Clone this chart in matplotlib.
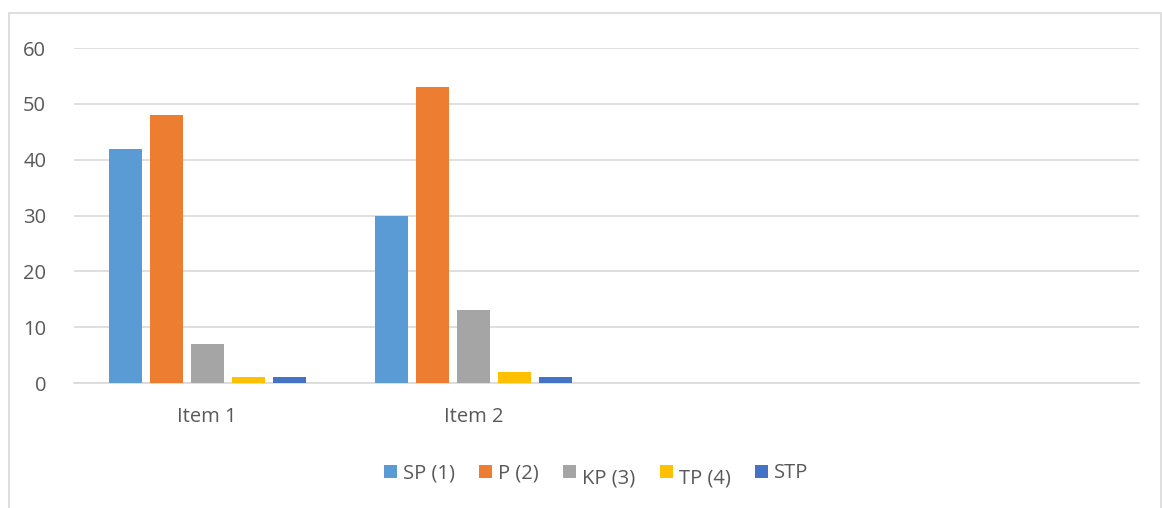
import numpy as np
import matplotlib
matplotlib.use("Agg")
import matplotlib.pyplot as plt
from matplotlib.patches import Rectangle
from matplotlib.transforms import Affine2D

plt.rcParams["font.family"] = ["Open Sans", "DejaVu Sans"]

categories = ["Item 1", "Item 2", "", ""]
series_names = ["SP (1)", "P (2)", "KP (3)", "TP (4)", "STP"]
values = {
    "SP (1)": [42, 30, 0, 0],
    "P (2)": [48, 53, 0, 0],
    "KP (3)": [7, 13, 0, 0],
    "TP (4)": [1, 2, 0, 0],
    "STP": [1, 1, 0, 0],
}
colors = ["#5B9BD5", "#ED7D31", "#A5A5A5", "#FFC000", "#4472C4"]
yticks = [0, 10, 20, 30, 40, 50, 60]

TEXT = "#595959"
GRID = "#D9D9D9"
FS = 14.5

fig = plt.figure(figsize=(11.62, 5.08), dpi=100)
ax = fig.add_axes([0.0637, 0.246, 0.9165, 0.6595])

# chart border
fig.patches.append(Rectangle((9 / 1162, -0.01), 1152 / 1162, 1 - 13 / 508 + 0.01,
                             transform=fig.transFigure, fill=False,
                             edgecolor=GRID, linewidth=1.2))

x = np.arange(len(categories))
width = 0.124
step = 0.154
for i, (name, col) in enumerate(zip(series_names, colors)):
    vals = np.array(values[name], dtype=float)
    xs = x + (i - 2) * step
    mask = vals > 0
    ax.bar(xs[mask], vals[mask], width=width, color=col, label=name, zorder=3)

ax.set_xlim(-0.5, len(categories) - 0.5)
ax.set_ylim(0, 60)
ax.set_yticks(yticks)
ax.set_xticks(x)
ax.set_xticklabels(categories)
ax.yaxis.grid(True, color=GRID, linewidth=1.2, zorder=0)
ax.set_axisbelow(True)
for s in ["top", "right", "left"]:
    ax.spines[s].set_visible(False)
ax.spines["bottom"].set_color(GRID)
ax.spines["bottom"].set_linewidth(1.2)
ax.tick_params(axis="both", length=0, labelsize=FS, colors=TEXT)
ax.tick_params(axis="y", pad=20)
ax.tick_params(axis="x", pad=17)

leg = fig.legend(loc="center", bbox_to_anchor=(0.513, 0.068), ncol=5,
                 frameon=False, fontsize=FS, handlelength=0.65, handleheight=0.65,
                 handletextpad=0.3, columnspacing=1.2)
for t in leg.get_texts():
    t.set_color(TEXT)
    # two of the legend labels sit a little lower than the others
    if t.get_text() in ("KP (3)", "TP (4)"):
        t.set_transform(t.get_transform() + Affine2D().translate(0, -5))

fig.savefig("out.png", dpi=100)
